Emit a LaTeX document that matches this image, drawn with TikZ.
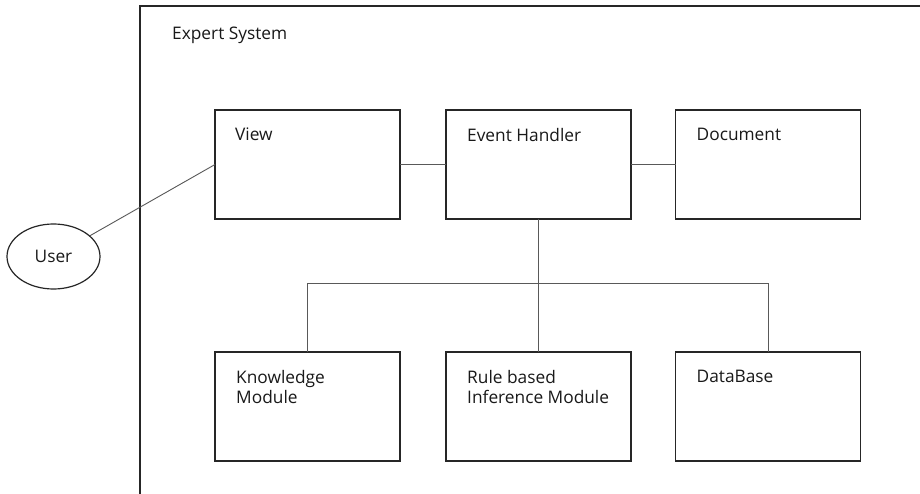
\documentclass[tikz,border=0pt]{standalone}
\usepackage{fontspec}
\setmainfont{Open Sans}
\usetikzlibrary{shapes.geometric}
\begin{document}
\begin{tikzpicture}[x=1pt,y=-1pt,
  box/.style={draw=black!85,line width=1.3pt,minimum width=185pt,minimum height=109pt,inner sep=0pt,outer sep=0pt},
  lbl/.style={anchor=north west,inner sep=0pt,align=left,font=\fontsize{17.3}{20.5}\selectfont,text=black!90},
  conn/.style={draw=black!65,line width=0.9pt},
  frame/.style={draw=black!85,line width=1.3pt}]
\useasboundingbox[fill=white] (0,0) rectangle (920,494);
% frame of the system (cut at right and bottom)
\coordinate (fbl) at (140,494);
\coordinate (ftl) at (140,6);
\coordinate (ftr) at (920,6);
\draw[frame] (fbl) -- (ftl) -- (ftr);
\node[lbl] (title) at (172,27) {Expert System};
% boxes
\node[box] (view) at (307.5,164.5) {};
\node[box] (eh)   at (538.5,164.5) {};
\node[box] (doc)  at (768,164.5) {};
\node[box] (km)   at (307.5,406.5) {};
\node[box] (rb)   at (538.5,406.5) {};
\node[box] (db)   at (768,406.5) {};
\node[lbl] (tview) at ([xshift=20pt,yshift=-18pt]view.north west) {View};
\node[lbl] (teh)   at ([xshift=21pt,yshift=-18pt]eh.north west) {Event Handler};
\node[lbl] (tdoc)  at ([xshift=21pt,yshift=-18pt]doc.north west) {Document};
\node[lbl] (tkm)   at ([xshift=21pt,yshift=-18pt]km.north west) {Knowledge\\Module};
\node[lbl] (trb)   at ([xshift=21pt,yshift=-18pt]rb.north west) {Rule based\\Inference Module};
\node[lbl] (tdb)   at ([xshift=21pt,yshift=-18pt]db.north west) {DataBase};
% user
\node[ellipse,draw=black!85,line width=1.2pt,minimum width=93pt,minimum height=65pt,inner sep=0pt,font=\fontsize{17.3}{20.5}\selectfont,text=black!90] (user) at (53.5,256.5) {User};
% connectors
\coordinate (bus) at (538.5,283);
\draw[conn] (view.west) -- (user);
\draw[conn] (view.east) -- (eh.west);
\draw[conn] (eh.east) -- (doc.west);
\draw[conn] (eh.south) -- (rb.north);
\draw[conn] (km.north) -- (km.north |- bus) -- (db.north |- bus) -- (db.north);
\end{tikzpicture}
\end{document}
